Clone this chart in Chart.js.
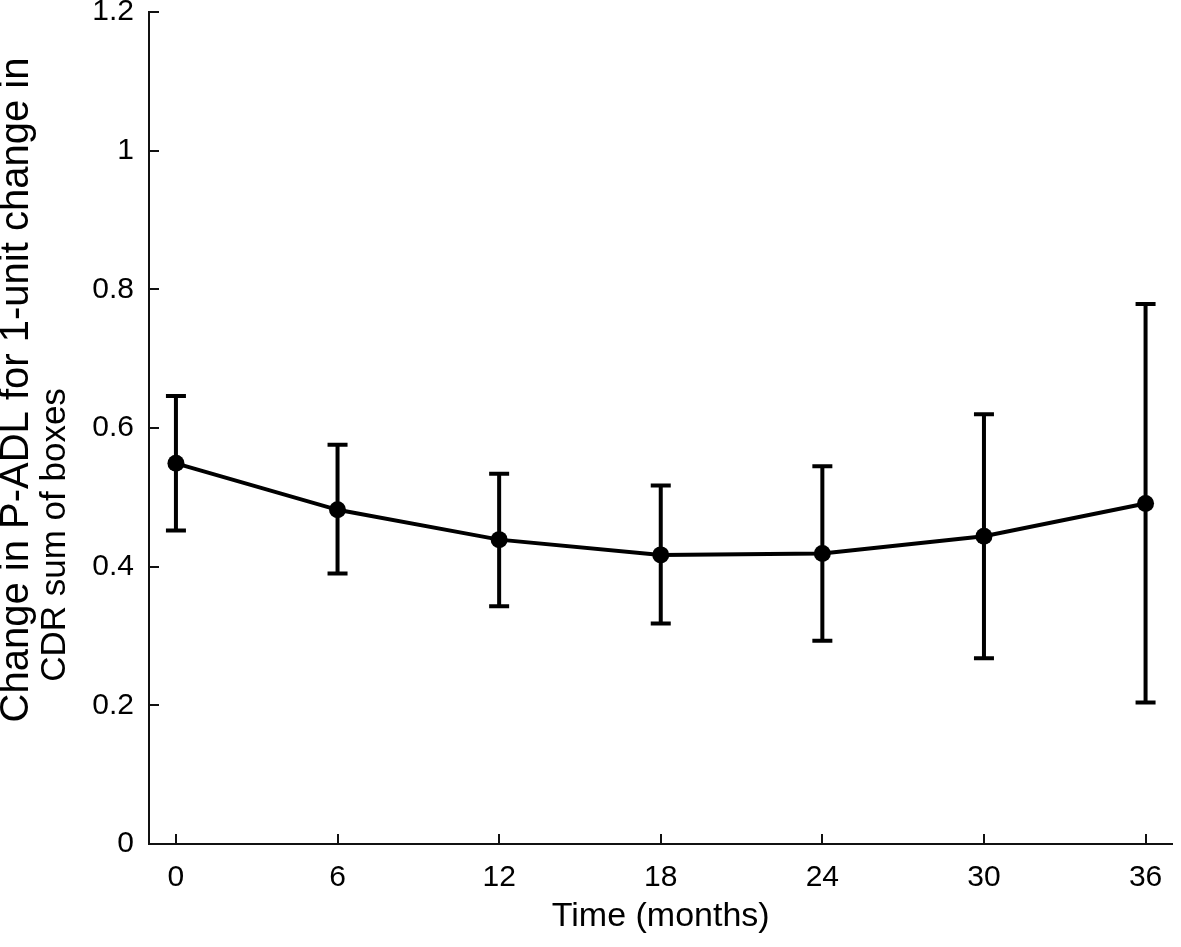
<!DOCTYPE html>
<html>
<head>
<meta charset="utf-8">
<script src="https://cdn.jsdelivr.net/npm/chart.js@4"></script>
<style>
html,body{margin:0;padding:0;background:#fff;}
canvas{display:block;}
</style>
</head>
<body>
<canvas id="c" width="1181" height="947"></canvas>
<script>
// Data
const months = [0, 6, 12, 18, 24, 30, 36];
const estimate = [0.549, 0.482, 0.439, 0.417, 0.419, 0.444, 0.491];
const upperCI = [0.646, 0.576, 0.534, 0.517, 0.545, 0.620, 0.779];
const lowerCI = [0.452, 0.390, 0.343, 0.318, 0.293, 0.268, 0.204];
const xTicks = [0, 6, 12, 18, 24, 30, 36];
const yTicks = [0, 0.2, 0.4, 0.6, 0.8, 1, 1.2];
const xTitle = 'Time (months)';
const yTitleLine1 = 'Change in P-ADL for 1-unit change in';
const yTitleLine2 = 'CDR sum of boxes';

const FONT = "'Liberation Sans', Arial, Helvetica, sans-serif";

const errorBars = {
  id: 'errorBars',
  beforeDatasetsDraw(chart) {
    const {ctx, scales: {x, y}} = chart;
    ctx.save();
    ctx.strokeStyle = '#000';
    ctx.lineWidth = 4;
    ctx.lineCap = 'butt';
    const cap = 10;
    months.forEach((m, i) => {
      const px = x.getPixelForValue(m);
      const yt = y.getPixelForValue(upperCI[i]);
      const yb = y.getPixelForValue(lowerCI[i]);
      ctx.beginPath();
      ctx.moveTo(px, yt); ctx.lineTo(px, yb);
      ctx.moveTo(px - cap, yt); ctx.lineTo(px + cap, yt);
      ctx.moveTo(px - cap, yb); ctx.lineTo(px + cap, yb);
      ctx.stroke();
    });
    ctx.restore();
  }
};

const inwardTicks = {
  id: 'inwardTicks',
  afterDraw(chart) {
    const {ctx, chartArea, scales: {x, y}} = chart;
    ctx.save();
    ctx.strokeStyle = '#111';
    ctx.lineWidth = 2;
    const len = 10;
    yTicks.forEach(v => {
      const py = Math.round(y.getPixelForValue(v));
      ctx.beginPath();
      ctx.moveTo(chartArea.left, py);
      ctx.lineTo(chartArea.left + len, py);
      ctx.stroke();
    });
    xTicks.forEach(v => {
      const px = Math.round(x.getPixelForValue(v));
      ctx.beginPath();
      ctx.moveTo(px, chartArea.bottom);
      ctx.lineTo(px, chartArea.bottom - len);
      ctx.stroke();
    });
    ctx.restore();
  }
};

// Helper axes: they draw nothing but the two lines of the y-axis title,
// stacked so each line sits where it does in the reference.
const helperAxis = (o) => ({
  type: 'linear', position: 'left', min: 0, max: 1,
  weight: o.weight, stack: o.stack, stackWeight: o.stackWeight,
  afterFit: s => { s.width = o.width; s.paddingTop = 0; s.paddingBottom = 0; },
  grid: {display: false, drawTicks: false},
  border: {display: false},
  ticks: {display: false},
  title: o.text ? {
    display: true, text: o.text, color: '#000', align: 'center',
    font: {family: FONT, size: o.size, lineHeight: o.lineHeight},
    padding: {top: o.padTop, bottom: 0}
  } : {display: false}
});

new Chart(document.getElementById('c'), {
  type: 'line',
  data: {
    datasets: [{
      data: months.map((m, i) => ({x: m, y: estimate[i]})),
      xAxisID: 'x',
      yAxisID: 'y',
      borderColor: '#000',
      backgroundColor: '#000',
      borderWidth: 4,
      pointRadius: 8.5,
      pointBackgroundColor: '#000',
      pointBorderWidth: 0,
      tension: 0,
      fill: false
    }]
  },
  options: {
    responsive: false,
    animation: false,
    devicePixelRatio: 1,
    layout: {padding: {top: 12, right: 3, left: 0, bottom: 0}},
    plugins: {legend: {display: false}, tooltip: {enabled: false}},
    scales: {
      x: {
        type: 'linear',
        min: -1,
        max: 37,
        afterBuildTicks: s => { s.ticks = xTicks.map(v => ({value: v})); },
        afterFit: s => { s.height = 103; s.paddingLeft = 0; s.paddingRight = 0; },
        grid: {display: false, drawTicks: false},
        border: {display: true, color: '#111', width: 2},
        ticks: {
          autoSkip: false, maxRotation: 0, padding: 16, color: '#000',
          font: {family: FONT, size: 30},
          callback: v => String(v)
        },
        title: {
          display: true, text: xTitle, color: '#000',
          font: {family: FONT, size: 34, lineHeight: 1.2},
          padding: {top: 0, bottom: 10}
        }
      },
      y: {
        type: 'linear',
        position: 'left',
        weight: 0,
        min: 0,
        max: 1.2,
        afterBuildTicks: s => { s.ticks = yTicks.map(v => ({value: v})); },
        afterFit: s => { s.width = 87; s.paddingTop = 0; s.paddingBottom = 0; },
        grid: {display: false, drawTicks: false},
        border: {display: true, color: '#111', width: 2},
        ticks: {
          padding: 15, color: '#000',
          font: {family: FONT, size: 30},
          callback: v => String(Math.round(v * 10) / 10)
        }
      },
      yTitle1: helperAxis({text: yTitleLine1, size: 40, lineHeight: 0.85, padTop: 0, width: 36, weight: 4, stack: 'a', stackWeight: 756}),
      yPad1: helperAxis({width: 36, weight: 3, stack: 'a', stackWeight: 76}),
      yPad2: helperAxis({width: 26, weight: 2, stack: 'b', stackWeight: 214}),
      yTitle2: helperAxis({text: yTitleLine2, size: 35, lineHeight: 1.0, padTop: 1.5, width: 26, weight: 1, stack: 'b', stackWeight: 618})
    }
  },
  plugins: [errorBars, inwardTicks]
});
</script>
</body>
</html>
